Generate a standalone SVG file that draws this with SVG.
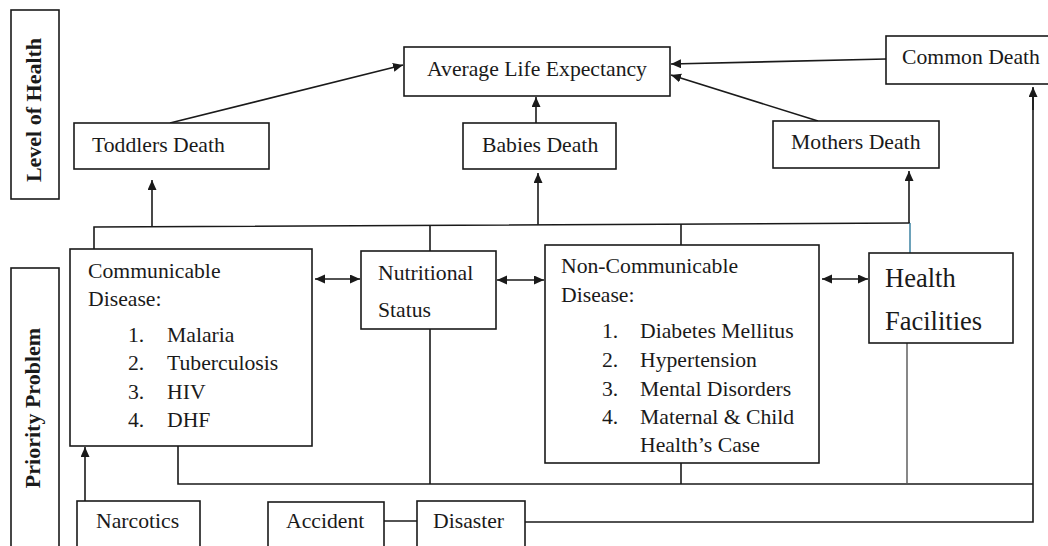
<svg xmlns="http://www.w3.org/2000/svg" width="1048" height="546" viewBox="0 0 1048 546">
<style>
.box{fill:#fff;stroke:#1a1a1a;stroke-width:1.6}
.t{font-family:"Liberation Serif","Times New Roman",serif;font-size:21.7px;fill:#1a1a1a}
.tb{font-family:"Liberation Serif","Times New Roman",serif;font-size:22px;font-weight:bold;fill:#1a1a1a}
.big{font-size:26.5px}
.ln{fill:none;stroke:#1a1a1a;stroke-width:1.6}
.arr{marker-end:url(#ah)}
.dbl{marker-end:url(#ah);marker-start:url(#ah)}
</style>
<defs>
<marker id="ah" markerUnits="userSpaceOnUse" markerWidth="11" markerHeight="10" refX="10" refY="4.5" orient="auto-start-reverse">
<path d="M0,0 L10,4.5 L0,9 z" fill="#1a1a1a"/>
</marker>
</defs>
<rect width="1048" height="546" fill="#fff"/>

<g id="connectors">
<line class="ln arr" x1="170" y1="123" x2="403" y2="65"/>
<line class="ln arr" x1="536" y1="123" x2="536" y2="97"/>
<line class="ln arr" x1="818" y1="121" x2="671" y2="75"/>
<line class="ln arr" x1="886" y1="59" x2="671" y2="64"/>
<polyline class="ln" points="94,249 94,227 910,223"/>
<line class="ln" x1="430" y1="225.3" x2="430" y2="251"/>
<line class="ln" x1="681" y1="224.1" x2="681" y2="245"/>
<line class="ln arr" x1="152" y1="226.7" x2="152" y2="180"/>
<line class="ln arr" x1="538" y1="224.8" x2="538" y2="173"/>
<line class="ln arr" x1="909" y1="223" x2="909" y2="171"/>
<line fill="none" stroke="#2f7a9c" stroke-width="1.4" x1="910" y1="223" x2="910" y2="253"/>
<line class="ln dbl" x1="315" y1="279" x2="360" y2="279"/>
<line class="ln dbl" x1="497" y1="280" x2="544" y2="280"/>
<line class="ln dbl" x1="822" y1="279" x2="868" y2="279"/>
<polyline class="ln" points="178,446 178,484 1033,484"/>
<line class="ln" x1="430" y1="329" x2="430" y2="484"/>
<line class="ln" x1="681" y1="463" x2="681" y2="484"/>
<line fill="none" stroke="#555" stroke-width="1.4" x1="907" y1="343" x2="907" y2="484"/>
<polyline class="ln" points="525,522 1033,522 1033,88"/>
<line class="ln arr" x1="1033" y1="110" x2="1033" y2="87"/>
<line class="ln" x1="384" y1="521" x2="417" y2="521"/>
<line class="ln arr" x1="85" y1="501" x2="85" y2="447"/>
</g>

<g id="level-of-health">
<rect class="box" x="11" y="10" width="48" height="189"/>
<text class="tb" transform="translate(41,110) rotate(-90)" text-anchor="middle">Level of Health</text>
</g>
<g id="priority-problem">
<rect class="box" x="11" y="268" width="48" height="300"/>
<text class="tb" transform="translate(40,408) rotate(-90)" text-anchor="middle">Priority Problem</text>
</g>

<g id="average-life-expectancy">
<rect class="box" x="404" y="47" width="266" height="49"/>
<text class="t" x="427" y="76">Average Life Expectancy</text>
</g>
<g id="common-death">
<rect class="box" x="886" y="36" width="170" height="48"/>
<text class="t" x="902" y="64">Common Death</text>
</g>
<g id="toddlers-death">
<rect class="box" x="74" y="123" width="195" height="46"/>
<text class="t" x="92" y="152">Toddlers Death</text>
</g>
<g id="babies-death">
<rect class="box" x="463" y="123" width="153" height="46"/>
<text class="t" x="482" y="152">Babies Death</text>
</g>
<g id="mothers-death">
<rect class="box" x="773" y="121" width="166" height="47"/>
<text class="t" x="791" y="149">Mothers Death</text>
</g>

<g id="communicable-disease">
<rect class="box" x="70" y="249" width="242" height="197"/>
<text class="t" x="88" y="278">Communicable</text>
<text class="t" x="88" y="306">Disease:</text>
<text class="t" x="128" y="342">1.</text><text class="t" x="167" y="342">Malaria</text>
<text class="t" x="128" y="370">2.</text><text class="t" x="167" y="370">Tuberculosis</text>
<text class="t" x="128" y="399">3.</text><text class="t" x="167" y="399">HIV</text>
<text class="t" x="128" y="427">4.</text><text class="t" x="167" y="427">DHF</text>
</g>
<g id="nutritional-status">
<rect class="box" x="361" y="251" width="135" height="78"/>
<text class="t" x="378" y="280">Nutritional</text>
<text class="t" x="378" y="317">Status</text>
</g>
<g id="non-communicable-disease">
<rect class="box" x="545" y="245" width="274" height="218"/>
<text class="t" x="561" y="273">Non-Communicable</text>
<text class="t" x="561" y="302">Disease:</text>
<text class="t" x="602" y="338">1.</text><text class="t" x="640" y="338">Diabetes Mellitus</text>
<text class="t" x="602" y="367">2.</text><text class="t" x="640" y="367">Hypertension</text>
<text class="t" x="602" y="396">3.</text><text class="t" x="640" y="396">Mental Disorders</text>
<text class="t" x="602" y="424">4.</text><text class="t" x="640" y="424">Maternal &amp; Child</text>
<text class="t" x="640" y="452">Health’s Case</text>
</g>
<g id="health-facilities">
<rect class="box" x="869" y="253" width="144" height="90"/>
<text class="t big" x="885" y="287">Health</text>
<text class="t big" x="885" y="330">Facilities</text>
</g>

<g id="narcotics">
<rect class="box" x="77" y="501" width="123" height="60"/>
<text class="t" x="96" y="528">Narcotics</text>
</g>
<g id="accident">
<rect class="box" x="268" y="502" width="116" height="60"/>
<text class="t" x="286" y="528">Accident</text>
</g>
<g id="disaster">
<rect class="box" x="417" y="501" width="108" height="60"/>
<text class="t" x="433" y="528">Disaster</text>
</g>
</svg>
